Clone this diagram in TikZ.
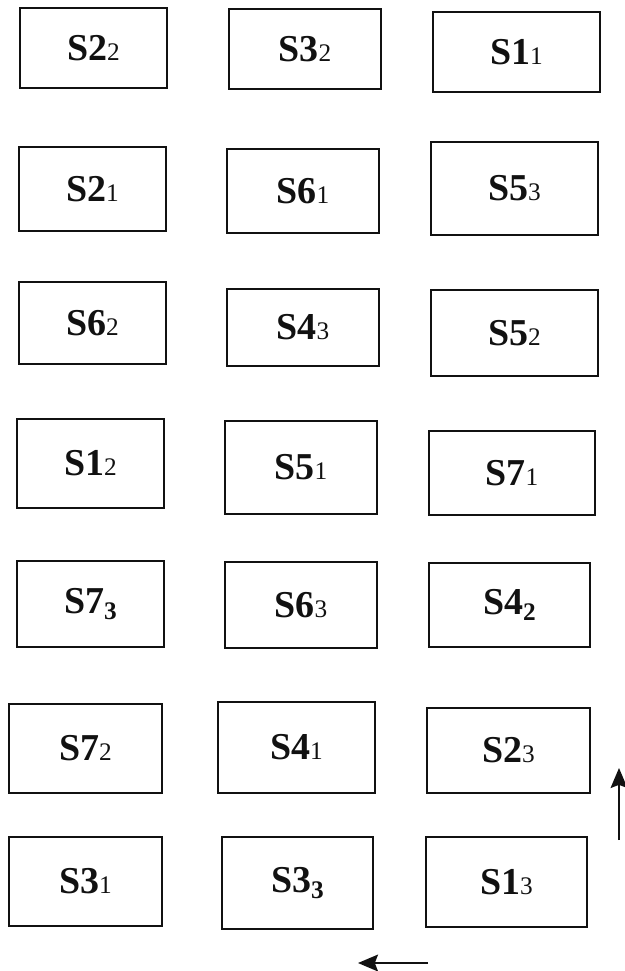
\documentclass[tikz,border=0pt]{standalone}
\usepackage{fontspec}
\setmainfont{Liberation Serif}
\usepackage{xcolor}
\usetikzlibrary{arrows.meta}
\definecolor{InkBlack}{HTML}{111111}

% label with a small digit on the baseline
\newcommand{\slot}[2]{\textbf{S#1}{\fontsize{18}{18}\selectfont #2}}
% label with a lowered bold digit
\newcommand{\slotlow}[2]{\textbf{S#1}\raisebox{-0.16cm}{\fontsize{18}{18}\selectfont\bfseries #2}}

\begin{document}
\begin{tikzpicture}[
	x=0.025cm, y=-0.025cm, % one unit is one pixel of the layout
	% Style for the boxes
	cell/.style={
		rectangle,
		draw=InkBlack,
		line width=1.1pt,
		inner sep=0pt,
		text=InkBlack,
		font=\fontsize{27}{27}\selectfont
	},
	% Size of one box (width, height)
	cellsize/.style 2 args={
		minimum width=#1*0.025cm,
		minimum height=#2*0.025cm
	},
	% Style for the direction arrows
	flow/.style={
		draw=InkBlack,
		line width=1.4pt,
		-{Stealth[length=5mm, width=4.2mm, inset=0.8mm]}
	}
	]
	
	\useasboundingbox (0,0) rectangle (624,971);
	
	% 1. Boxes, row by row (top to bottom)
	% Row 1
	\node[cell, cellsize={147}{80}] (s22) at (93.5, 48) {\slot{2}{2}};
	\node[cell, cellsize={152}{80}] (s32) at (305, 49) {\slot{3}{2}};
	\node[cell, cellsize={167}{80}] (s11) at (516.5, 52) {\slot{1}{1}};
	
	% Row 2
	\node[cell, cellsize={147}{84}] (s21) at (92.5, 189) {\slot{2}{1}};
	\node[cell, cellsize={152}{84}] (s61) at (303, 191) {\slot{6}{1}};
	\node[cell, cellsize={167}{93}] (s53) at (514.5, 188.5) {\slot{5}{3}};
	
	% Row 3
	\node[cell, cellsize={147}{82}] (s62) at (92.5, 323) {\slot{6}{2}};
	\node[cell, cellsize={152}{77}] (s43) at (303, 327.5) {\slot{4}{3}};
	\node[cell, cellsize={167}{86}] (s52) at (514.5, 333) {\slot{5}{2}};
	
	% Row 4
	\node[cell, cellsize={147}{89}] (s12) at (90.5, 463.5) {\slot{1}{2}};
	\node[cell, cellsize={152}{93}] (s51) at (301, 467.5) {\slot{5}{1}};
	\node[cell, cellsize={166}{84}] (s71) at (512, 473) {\slot{7}{1}};
	
	% Row 5
	\node[cell, cellsize={147}{86}] (s73) at (90.5, 604) {\slotlow{7}{3}};
	\node[cell, cellsize={152}{86}] (s63) at (301, 605) {\slot{6}{3}};
	\node[cell, cellsize={161}{84}] (s42) at (509.5, 605) {\slotlow{4}{2}};
	
	% Row 6
	\node[cell, cellsize={153}{89}] (s72) at (85.5, 748.5) {\slot{7}{2}};
	\node[cell, cellsize={157}{91}] (s41) at (296.5, 747.5) {\slot{4}{1}};
	\node[cell, cellsize={163}{85}] (s23) at (508.5, 750.5) {\slot{2}{3}};
	
	% Row 7
	\node[cell, cellsize={153}{89}] (s31) at (85.5, 881.5) {\slot{3}{1}};
	\node[cell, cellsize={151}{92}] (s33) at (297.5, 883) {\slotlow{3}{3}};
	\node[cell, cellsize={161}{90}] (s13) at (506.5, 882) {\slot{1}{3}};
	
	% 2. Direction arrows
	\coordinate (up_from) at (619, 840);
	\coordinate (up_to) at (619, 768);
	\coordinate (left_from) at (428, 963);
	\coordinate (left_to) at (358, 963);
	
	\draw[flow] (up_from) -- (up_to);
	\draw[flow] (left_from) -- (left_to);
	
\end{tikzpicture}
\end{document}
